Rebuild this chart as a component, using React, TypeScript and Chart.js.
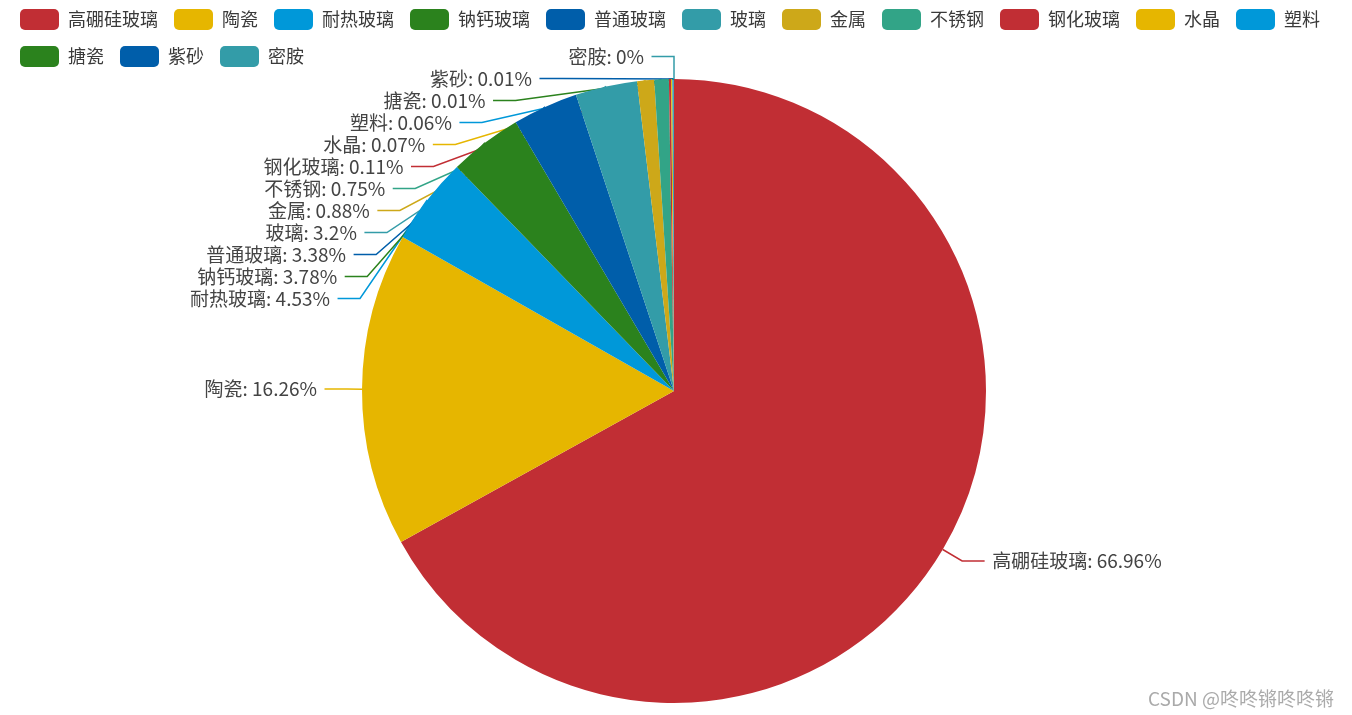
import React, { useEffect, useRef } from "react";
import { Chart, registerables } from "chart.js";

Chart.register(...registerables);

const names = [
  "高硼硅玻璃", "陶瓷", "耐热玻璃", "钠钙玻璃", "普通玻璃", "玻璃", "金属",
  "不锈钢", "钢化玻璃", "水晶", "塑料", "搪瓷", "紫砂", "密胺",
];
const values = [66.96, 16.26, 4.53, 3.78, 3.38, 3.2, 0.88, 0.75, 0.11, 0.07, 0.06, 0.01, 0.01, 0];
const palette = ["#c12e34", "#e6b600", "#0098d9", "#2b821d", "#005eaa", "#339ca8", "#cda819", "#32a487"];
const colors = names.map((_, i) => palette[i % palette.length]);

const FONT = '"Microsoft YaHei", "Noto Sans CJK SC", sans-serif';
const LEN = 22.5; // first segment of the label line
const LEN2 = 22.5; // horizontal segment
const DIST = 7.5; // gap between line and text
const LABEL_H = 22;

type Item = { color: string; text: string; dir: number; x1: number; y1: number; lx: number; ly: number };

// pushes overlapping labels down, then puts them back on an ellipse (like echarts does)
function adjustSide(list: Item[], cx: number, cy: number, r: number, dir: number) {
  if (list.length < 2) return;
  list.sort((a, b) => a.ly - b.ly);
  let last = -Infinity;
  let adjusted = false;
  for (const it of list) {
    const top = it.ly - LABEL_H / 2;
    if (top < last) {
      it.ly += last - top;
      adjusted = true;
    }
    last = it.ly + LABEL_H / 2;
  }
  if (!adjusted) return;
  const rA = r + LEN;
  const semis = [list.filter((it) => it.ly <= cy), list.filter((it) => it.ly > cy)];
  for (const semi of semis) {
    let maxY = 0;
    let rB = rA;
    for (const it of semi) {
      const dy = Math.abs(it.ly - cy);
      if (dy >= maxY) {
        const dx = it.lx - cx - LEN2 * dir;
        rB = Math.abs(dx) < rA ? Math.sqrt((dy * dy) / (1 - (dx * dx) / rA / rA)) : rA;
        maxY = dy;
      }
    }
    for (const it of semi) {
      const dy = Math.abs(it.ly - cy);
      const dx = Math.sqrt(Math.max(0, 1 - (dy * dy) / rB / rB)) * rA;
      it.lx = cx + (dx + LEN2) * dir;
    }
  }
}

function layoutLabels(chart: any): Item[] {
  const meta = chart.getDatasetMeta(0);
  const data = chart.data.datasets[0].data as number[];
  const total = data.reduce((a, b) => a + b, 0);
  const items: Item[] = [];
  let cx = 0, cy = 0, r = 0;
  meta.data.forEach((arc: any, i: number) => {
    const p = arc.getProps(["x", "y", "startAngle", "endAngle", "outerRadius"], true);
    cx = p.x; cy = p.y; r = p.outerRadius;
    const mid = (p.startAngle + p.endAngle) / 2;
    const nx = Math.cos(mid);
    const ny = Math.sin(mid);
    const dir = nx > 1e-6 ? 1 : -1;
    const x1 = cx + r * nx;
    const y1 = cy + r * ny;
    const x2 = x1 + nx * LEN;
    const y2 = y1 + ny * LEN;
    const x3 = x2 + dir * LEN2;
    const pct = +((data[i] / total) * 100).toFixed(2);
    items.push({
      color: colors[i], text: `${chart.data.labels[i]}: ${pct}%`, dir,
      x1, y1, lx: x3 + dir * DIST, ly: y2,
    });
  });
  adjustSide(items.filter((it) => it.dir > 0), cx, cy, r, 1);
  adjustSide(items.filter((it) => it.dir < 0), cx, cy, r, -1);
  return items;
}

const outerLabels = {
  id: "outerLabels",
  // lines go under the slices, text on top
  beforeDatasetsDraw(chart: any) {
    const ctx = chart.ctx;
    ctx.save();
    for (const it of layoutLabels(chart)) {
      const p2x = it.lx - it.dir * DIST;
      const p1x = p2x - it.dir * LEN2;
      ctx.strokeStyle = it.color;
      ctx.lineWidth = 1.5;
      ctx.beginPath();
      ctx.moveTo(it.x1, it.y1);
      ctx.lineTo(p1x, it.ly);
      ctx.lineTo(p2x, it.ly);
      ctx.stroke();
    }
    ctx.restore();
  },
  afterDatasetsDraw(chart: any) {
    const ctx = chart.ctx;
    ctx.save();
    ctx.font = `19px ${FONT}`;
    ctx.textBaseline = "middle";
    ctx.fillStyle = "#444";
    for (const it of layoutLabels(chart)) {
      ctx.textAlign = it.dir > 0 ? "left" : "right";
      ctx.fillText(it.text, it.lx, it.ly);
    }
    ctx.restore();
  },
};

const App = () => {
  const ref = useRef<HTMLCanvasElement>(null!);
  useEffect(() => {
    const chart = new Chart(ref.current, {
      type: "pie",
      data: {
        labels: names,
        datasets: [
          {
            data: values,
            backgroundColor: colors,
            borderWidth: 0,
            radius: 312,
          } as any,
        ],
      },
      options: {
        animation: false,
        responsive: true,
        maintainAspectRatio: false,
        layout: { padding: { top: 0, bottom: 10, left: 4, right: 8 } },
        plugins: {
          legend: {
            position: "top",
            align: "start",
            labels: {
              boxWidth: 39,
              boxHeight: 21,
              padding: 16,
              useBorderRadius: true,
              borderRadius: 5,
              color: "#3a3a3a",
              font: { size: 18, family: FONT },
            },
          },
          tooltip: { enabled: false },
        },
      },
      plugins: [outerLabels],
    });
    return () => {
      chart.destroy();
    };
  }, []);
  return (
    <div style={{ position: "absolute", left: 0, top: 0, width: 1352, height: 715, overflow: "hidden", background: "#fff" }}>
      <div style={{ position: "absolute", left: 0, top: -7, width: 1352, height: 722 }}>
        <canvas ref={ref} />
      </div>
      <div
        style={{
          position: "absolute", left: 1148, top: 686, fontFamily: FONT, fontSize: 19,
          color: "#aaa", lineHeight: "24px", whiteSpace: "nowrap",
        }}
      >
        CSDN @咚咚锵咚咚锵
      </div>
    </div>
  );
};

export default App;
